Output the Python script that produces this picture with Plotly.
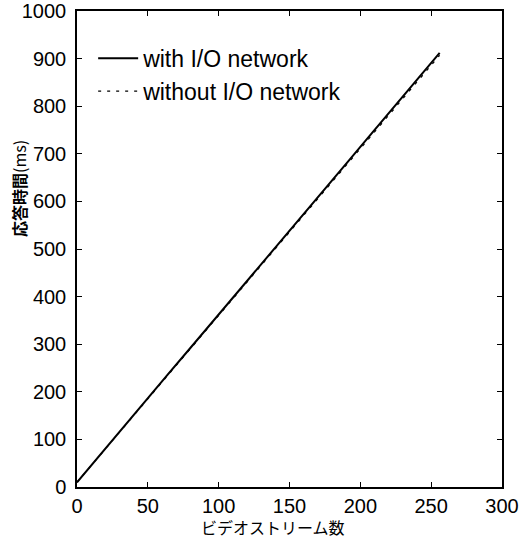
import plotly.graph_objects as go

streams = [0, 16, 32, 48, 64, 80, 96, 112, 128, 144, 160, 176, 192, 208, 224, 240, 256]
with_io = [10, 67, 124, 180, 236, 292, 348, 404, 460, 517, 573, 630, 686, 743, 800, 856, 912]
without_io = [10, 66, 123, 179, 235, 291, 347, 403, 459, 515, 571, 627, 683, 739, 795, 851, 907]

x_title = "ビデオストリーム数"
y_title = "<b>応答時間</b>(ms)"

font_lat = "Liberation Sans, Arial, sans-serif"
font_cjk = "Noto Sans CJK JP"

fig = go.Figure()
fig.add_trace(go.Scatter(x=streams, y=with_io, mode="lines", name="with I/O network",
                         line=dict(color="black", width=2), legendgroup="a"))
fig.add_trace(go.Scatter(x=streams, y=without_io, mode="lines", name="without I/O network",
                         line=dict(color="black", width=1.2, dash="3px,6px"), legendgroup="b"))

axis_common = dict(showline=True, linecolor="black", linewidth=1.5, mirror="ticks",
                   ticks="inside", ticklen=5, tickcolor="black", showgrid=False,
                   zeroline=False, automargin=False,
                   tickfont=dict(family=font_lat, size=20, color="black"))

fig.update_layout(
    width=521, height=541,
    margin=dict(l=77, r=19, t=11, b=54),
    paper_bgcolor="white", plot_bgcolor="white",
    xaxis=dict(range=[0, 300], dtick=50, ticklabelstandoff=0, **axis_common),
    yaxis=dict(range=[0, 1000], dtick=100, ticklabelstandoff=5, **axis_common),
    legend=dict(x=0.038, y=0.946, xanchor="left", yanchor="top", bgcolor="rgba(0,0,0,0)",
                font=dict(family=font_lat, size=23, color="black"), tracegroupgap=0,
                itemwidth=40),
    showlegend=True,
    annotations=[
        dict(text=x_title, xref="paper", yref="paper", x=(273 - 77) / 425, y=-(527 - 487) / 476,
             xanchor="center", yanchor="middle", showarrow=False,
             font=dict(family=font_cjk, size=16, color="black")),
        dict(text=y_title, xref="paper", yref="paper", x=-(77 - 19) / 425, y=(487 - 189) / 476,
             xanchor="center", yanchor="middle", showarrow=False, textangle=-90,
             font=dict(family=font_cjk, size=16, color="black")),
    ],
)

fig.write_html("out.html", config={"displayModeBar": False},
               post_script="document.body.style.margin='0';document.body.style.overflow='hidden';")
